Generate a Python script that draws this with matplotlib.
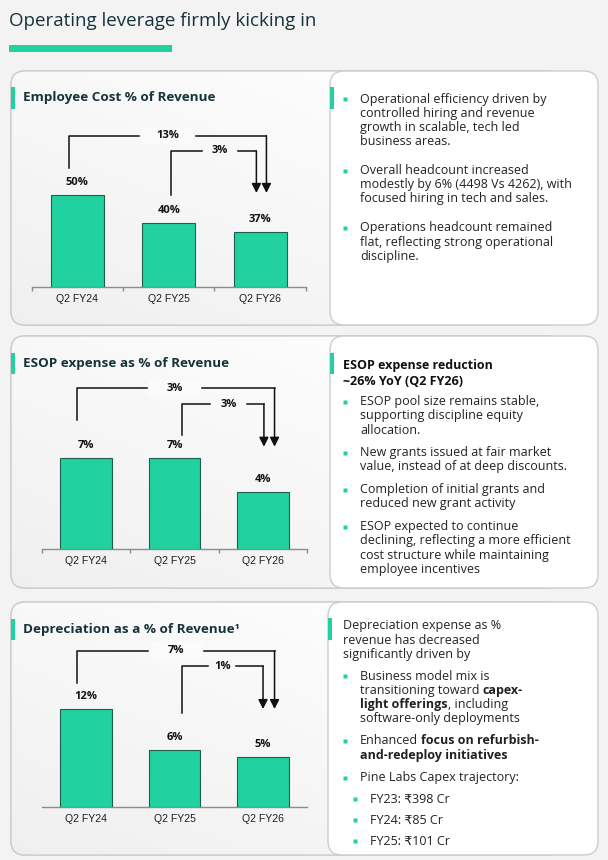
import matplotlib
matplotlib.use("Agg")
import matplotlib.pyplot as plt
import numpy as np
from matplotlib.patches import FancyBboxPatch, Rectangle
from matplotlib.transforms import blended_transform_factory

# ---- data ----
quarters = ['Q2 FY24', 'Q2 FY25', 'Q2 FY26']
employee_cost = [50, 40, 37]
esop_expense = [7, 7, 4]
depreciation = [12, 6, 5]
employee_change = ['13%', '3%']
esop_change = ['3%', '3%']
depr_change = ['7%', '1%']

emp_notes = [
    ["Operational efficiency driven by", "controlled hiring and revenue",
     "growth in scalable, tech led", "business areas."],
    ["Overall headcount increased", "modestly by 6% (4498 Vs 4262), with",
     "focused hiring in tech and sales."],
    ["Operations headcount remained", "flat, reflecting strong operational",
     "discipline."],
]
esop_head = ["ESOP expense reduction", "~26% YoY (Q2 FY26)"]
esop_notes = [
    ["ESOP pool size remains stable,", "supporting discipline equity", "allocation."],
    ["New grants issued at fair market", "value, instead of at deep discounts."],
    ["Completion of initial grants and", "reduced new grant activity"],
    ["ESOP expected to continue", "declining, reflecting a more efficient",
     "cost structure while maintaining", "employee incentives"],
]
depr_head = ["Depreciation expense as %", "revenue has decreased", "significantly driven by"]
depr_notes = [
    [[("Business model mix is", False)],
     [("transitioning toward ", False), ("capex-", True)],
     [("light offerings", True), (", including", False)],
     [("software-only deployments", False)]],
    [[("Enhanced ", False), ("focus on refurbish-", True)],
     [("and-redeploy initiatives", True)]],
    [[("Pine Labs Capex trajectory:", False)]],
]
capex_years = ['FY23', 'FY24', 'FY25']
capex_cr = [398, 85, 101]

# ---- style ----
W, H = 608, 860
GREEN = '#21d19f'
DARK = '#17323a'
TXT = '#222222'
BODY = 9
FONT = ['Open Sans', 'DejaVu Sans']
plt.rcParams['font.family'] = FONT

fig = plt.figure(figsize=(W / 100, H / 100), dpi=100, facecolor='#f3f3f3')
bg = fig.add_axes([0, 0, 1, 1])
bg.set_xlim(0, W)
bg.set_ylim(H, 0)
bg.axis('off')
renderer = fig.canvas.get_renderer()


def text_width(s, **kw):
    t = bg.text(0, 0, s, **kw)
    w = t.get_window_extent(renderer).width
    t.remove()
    return w


def panel(x0, y0, x1, y1, grad):
    z = 1 if grad else 2
    p = FancyBboxPatch((x0, y0), x1 - x0, y1 - y0,
                       boxstyle='round,pad=0,rounding_size=14',
                       fc='#f6f6f6' if grad else 'white', ec='#cdcdcd', lw=1, zorder=z)
    bg.add_patch(p)
    if grad:
        xx, yy = np.meshgrid(np.linspace(0, 1, 60), np.linspace(0, 1, 60))
        v = 0.94 + 0.055 * np.clip(0.55 * xx + 0.6 * (1 - yy), 0, 1)
        img = np.dstack([v, v, v])
        im = bg.imshow(img, extent=(x0, x1, y1, y0), aspect='auto',
                       interpolation='bilinear', zorder=1.1)
        im.set_clip_path(p)
        bg.add_patch(FancyBboxPatch((x0, y0), x1 - x0, y1 - y0,
                                    boxstyle='round,pad=0,rounding_size=14',
                                    fc='none', ec='#cdcdcd', lw=1, zorder=1.2))
    bg.set_xlim(0, W)
    bg.set_ylim(H, 0)


def accent(x, y0, y1):
    bg.add_patch(Rectangle((x, y0), 3.5, y1 - y0, fc=GREEN, ec='none', zorder=3))


def bullet(x, y):
    bg.plot([x], [y], marker='s', ms=2.6, color=GREEN, mec='none', zorder=4)


SP = text_width("n n", fontsize=BODY) - text_width("nn", fontsize=BODY)


def rich(x, y, runs, size=BODY):
    for s, bold in runs:
        stripped = s.rstrip(' ')
        w = bg.text(x, y, stripped, fontsize=size, color=TXT, va='center',
                    fontweight='bold' if bold else 'normal', zorder=4)
        x += w.get_window_extent(renderer).width + SP * (len(s) - len(stripped))


def bullets(items, y, xb, xt, lh, gap, size=BODY):
    for lines in items:
        bullet(xb, y)
        for ln in lines:
            if isinstance(ln, str):
                bg.text(xt, y, ln, fontsize=size, color=TXT, va='center', zorder=4)
            else:
                rich(xt, y, ln, size)
            y += lh
        y += gap
    return y


def bar_panel(left, right, base, top, v0, scale, vals, changes, brk, ticks=True):
    ax = fig.add_axes([left / W, 1 - base / H, (right - left) / W, (base - top) / H])
    ax.patch.set_alpha(0)
    x = np.arange(len(vals))
    ax.bar(x, np.array(vals) - v0, bottom=v0, width=0.58, color=GREEN,
           edgecolor='#1f5f52', lw=0.8, zorder=3)
    ax.set_xlim(-0.5, 2.5)
    ax.set_ylim(v0, v0 + (base - top) / scale)
    for s in ['top', 'left', 'right']:
        ax.spines[s].set_visible(False)
    ax.spines['bottom'].set_color('#8c8c8c')
    ax.spines['bottom'].set_linewidth(1)
    ax.set_yticks([])
    ax.set_xticks(x)
    ax.set_xticklabels(quarters, family=['Liberation Sans'], fontsize=7.6, color='#1e1e1e')
    ax.tick_params(axis='x', which='major', length=0, pad=5)
    if ticks:
        ax.set_xticks([-0.5, 0.5, 1.5, 2.5], minor=True)
        ax.tick_params(axis='x', which='minor', length=3, color='#8c8c8c', width=1)
    for xi, v in zip(x, vals):
        ax.annotate(f'{v}%', (xi, v), xytext=(0, 9), textcoords='offset points',
                    ha='center', va='center', fontsize=8, fontweight='bold', color='#111')
    tr = blended_transform_factory(ax.transData, ax.transAxes)
    for i, (lab, (x0, x1, ys, yt, tip, lx, hg)) in enumerate(zip(changes, brk)):
        kw = dict(color='#111', lw=1.1, transform=tr, clip_on=False, zorder=4)
        ax.plot([x0, x0, lx - hg], [ys, yt, yt], **kw)
        ax.plot([lx + hg, x1], [yt, yt], **kw)
        ax.annotate('', xy=(x1, tip), xytext=(x1, yt), xycoords=tr, textcoords=tr,
                    arrowprops=dict(arrowstyle='-|>,head_length=0.55,head_width=0.28',
                                    color='#111', lw=1.1, shrinkA=0, shrinkB=0),
                    annotation_clip=False, zorder=4)
        if i == 0:
            ax.add_patch(Rectangle((lx - hg + 0.03, yt - 0.05), 2 * hg - 0.06, 0.1,
                                   transform=tr, fc='#fbfbfb', ec='none', zorder=3.5,
                                   clip_on=False))
        ax.text(lx, yt, lab, transform=tr, ha='center', va='center', fontsize=8,
                fontweight='bold', color='#111', zorder=5)
    return ax


# ---- header ----
bg.text(9, 21, 'Operating leverage firmly kicking in', fontsize=13.5, color=DARK,
        fontweight=500, va='center', ha='left')
bg.add_patch(Rectangle((9, 45), 163, 7, fc=GREEN, ec='none'))

# ---- panel 1 ----
panel(11, 71, 560, 325, True)
panel(330, 71, 598, 325, False)
accent(11, 87, 109)
accent(330, 87, 109)
bg.text(23, 98, 'Employee Cost % of Revenue', fontsize=9.7, fontweight='bold',
        color=DARK, va='center', zorder=4)
bullets(emp_notes, 99.3, 345, 360, 14.1, 15)
bar_panel(31.7, 305.7, 287, 115, 17.5, 2.83, employee_cost, employee_change,
          [(-0.09, 2.07, 0.692, 0.880, 0.547, 0.99, 0.31),
           (1.02, 1.96, 0.535, 0.791, 0.547, 1.56, 0.20)])

# ---- panel 2 ----
panel(11, 336, 560, 588, True)
panel(330, 336, 598, 588, False)
accent(11, 353, 374)
accent(330, 353, 374)
bg.text(23, 364, 'ESOP expense as % of Revenue', fontsize=9.7, fontweight='bold',
        color=DARK, va='center', zorder=4)
for i, ln in enumerate(esop_head):
    bg.text(342.7, 365 + 16.7 * i, ln, fontsize=9, fontweight='bold', color='#111',
            va='center', zorder=4)
bullets(esop_notes, 401.7, 345, 360, 14.2, 8.5)
bar_panel(41.7, 307.3, 549, 375, -1.06, 11.33, esop_expense, esop_change,
          [(-0.10, 2.13, 0.741, 0.924, 0.588, 1.00, 0.315),
           (1.08, 2.01, 0.655, 0.833, 0.588, 1.61, 0.21)])

# ---- panel 3 ----
panel(11, 602, 560, 855, True)
panel(328, 602, 598, 855, False)
accent(11, 619, 640)
accent(328, 618, 640)
bg.text(23, 629, 'Depreciation as a % of Revenue\u00b9', fontsize=9.7, fontweight='bold',
        color=DARK, va='center', zorder=4)
for i, ln in enumerate(depr_head):
    bg.text(342.7, 626 + 14.2 * i, ln, fontsize=BODY, color=TXT, va='center', zorder=4)
bullets(depr_notes, 676, 345, 360, 14.1, 8.5)
for i, (yr, cr) in enumerate(zip(capex_years, capex_cr)):
    yy = 799 + 21 * i
    bullet(355, yy)
    bg.text(370, yy, f'{yr}: \u20b9{cr} Cr', fontsize=BODY, color=TXT, va='center', zorder=4)
bar_panel(41.7, 307.3, 806.7, 635, -2.28, 6.81, depreciation, depr_change,
          [(-0.10, 2.13, 0.722, 0.909, 0.569, 1.02, 0.315),
           (1.08, 2.00, 0.544, 0.819, 0.569, 1.54, 0.16)], ticks=False)

fig.savefig('out.png', dpi=100, facecolor=fig.get_facecolor())
